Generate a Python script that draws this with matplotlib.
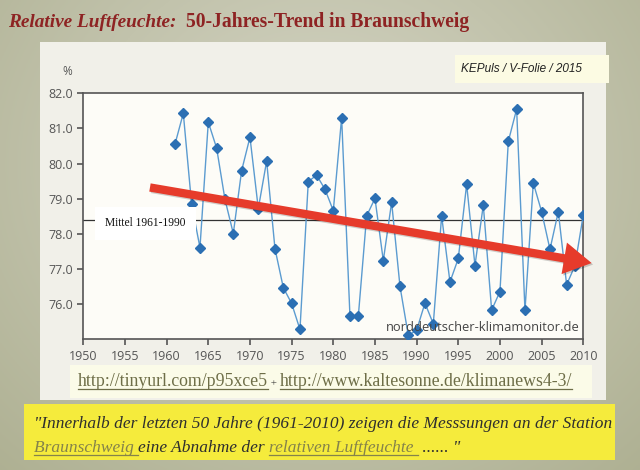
import numpy as np
import matplotlib
matplotlib.use("Agg")
import matplotlib.pyplot as plt
import matplotlib.transforms as mtransforms
from matplotlib.patches import Rectangle, FancyArrowPatch
from matplotlib.lines import Line2D

# ---------------- data ----------------
years = list(range(1961, 2011))
humidity = [80.55, 81.43, 78.84, 77.61, 81.18, 80.44, 78.98, 78.01, 79.80, 80.75,
            78.72, 80.07, 77.58, 76.47, 76.02, 75.28, 79.49, 79.67, 79.27, 78.66,
            81.31, 75.65, 75.65, 78.51, 79.01, 77.24, 78.90, 76.51, 75.11, 75.26,
            76.03, 75.44, 78.51, 76.63, 77.30, 79.41, 77.10, 78.82, 75.83, 76.36,
            80.63, 81.55, 75.82, 79.45, 78.63, 77.56, 78.63, 76.55, 77.10, 78.54]
mean_1961_1990 = 78.4
trend_years = [1958.0, 2011.0]
trend_values = [79.32, 77.17]
x_ticks = [1950, 1955, 1960, 1965, 1970, 1975, 1980, 1985, 1990, 1995, 2000, 2005, 2010]
y_ticks = [76.0, 77.0, 78.0, 79.0, 80.0, 81.0, 82.0]

# ---------------- figure ----------------
W, H = 640, 470
fig = plt.figure(figsize=(6.4, 4.7), dpi=100)

def fx(px):
    return px / W

def fy(py):
    return 1 - py / H

# background gradient
bg = fig.add_axes([0, 0, 1, 1], zorder=-10)
yy, xx = np.mgrid[0:1:200j, 0:1:300j]
r = np.sqrt(((xx - 0.5) / 0.75) ** 2 + ((yy - 0.35) / 0.9) ** 2)
r = np.clip(r, 0, 1)
c_in = np.array([214, 214, 198]) / 255
c_out = np.array([174, 176, 146]) / 255
img = c_in[None, None, :] * (1 - r[..., None]) + c_out[None, None, :] * r[..., None]
bg.imshow(img, extent=[0, 1, 0, 1], aspect='auto', origin='upper')
bg.set_xlim(0, 1); bg.set_ylim(0, 1)
bg.axis('off')

def frect(x0, y0, x1, y1, color, z=-5):
    fig.patches.append(Rectangle((fx(x0), fy(y1)), fx(x1) - fx(x0), fy(y0) - fy(y1),
                                 transform=fig.transFigure, facecolor=color,
                                 edgecolor='none', zorder=z))

# panels
frect(40, 42, 606, 400, '#f1f0e9')
frect(455, 55, 609, 83, '#fcfbe3', z=-4)
frect(70, 365, 592, 398, '#fbfbe8', z=-4)
frect(24, 404, 615, 460, '#f5eb3c', z=-4)

# title
fig.text(fx(8), fy(27), 'Relative Luftfeuchte:', family='Liberation Serif', style='italic',
         weight='bold', fontsize=13.9, color='#8e2323', va='baseline')
fig.text(fx(186), fy(27), '50-Jahres-Trend in Braunschweig', family='Liberation Serif',
         weight='bold', fontsize=14.1, color='#8e2323', va='baseline')

fig.text(fx(461), fy(69), 'KEPuls / V-Folie / 2015', family='Liberation Sans', style='italic',
         fontsize=8.5, color='#222222', va='center')

# ---------------- chart ----------------
ax = fig.add_axes([fx(83.3), fy(339.3), fx(583.3) - fx(83.3), fy(93.3) - fy(339.3)])
ax.set_facecolor('#fdfcf7')
ax.set_xlim(1950, 2010)
ax.set_ylim(75, 82)
ax.set_xticks(x_ticks)
ax.set_xticklabels([str(t) for t in x_ticks])
ax.set_yticks(y_ticks)
ax.set_yticklabels(['%.1f' % t for t in y_ticks])
for s in ax.spines.values():
    s.set_color('#555555')
    s.set_linewidth(1.2)
ax.tick_params(colors='#555555', labelcolor='#555555', labelsize=9, length=4, width=1.2,
               direction='out')
for lab in ax.get_xticklabels() + ax.get_yticklabels():
    lab.set_family('Open Sans')

ax.axhline(mean_1961_1990, color='#333333', lw=0.9, zorder=2)
ax.plot(years, humidity, color='#5b9bd0', lw=1.0, marker='D', markersize=5.5,
        markerfacecolor='#2b6fb3', markeredgecolor='#2b6fb3', zorder=3)

ax.text(1952.6, mean_1961_1990 - 0.1, 'Mittel 1961-1990', family='Liberation Serif',
        fontsize=8.3, color='#111111', va='center', ha='left', zorder=4,
        bbox=dict(facecolor='white', edgecolor='none', pad=7.5))

ax.text(0.993, 0.047, 'norddeutscher-klimamonitor.de', transform=ax.transAxes,
        family='Open Sans', fontsize=9.3, color='#444444', ha='right', va='center', zorder=4)

ax.text(-0.022, 1.09, '%', transform=ax.transAxes, family='Open Sans', fontsize=8.5,
        color='#555555', ha='right', va='center')

# trend arrow (shadow + arrow)
for dx, col, z in [(1.5, (0, 0, 0, 0.18), 5), (0, '#e63b2b', 6)]:
    arr = FancyArrowPatch((trend_years[0], trend_values[0]), (trend_years[1], trend_values[1]),
                          arrowstyle='simple,head_width=1.15,head_length=1.0,tail_width=0.3',
                          mutation_scale=20, color=col, shrinkA=0, shrinkB=0,
                          clip_on=False, zorder=z, lw=0)
    if dx:
        arr.set_transform(ax.transData + mtransforms.ScaledTranslation(dx / 100, -dx / 100, fig.dpi_scale_trans))
    ax.add_patch(arr)

# ---------------- rich text lines ----------------
fig.canvas.draw()
renderer = fig.canvas.get_renderer()

def runs_line(runs, x0px, ybase_px, size, style='normal'):
    x = x0px
    for txt, color, underline, rsize in runs:
        t = fig.text(fx(x), fy(ybase_px), txt, family='Liberation Serif', style=style,
                     fontsize=rsize or size, color=color, va='baseline', ha='left')
        bb = t.get_window_extent(renderer)
        w = bb.width
        if underline:
            fig.lines.append(Line2D([fx(x), fx(x + w)], [fy(ybase_px + 2.5)] * 2,
                                    transform=fig.transFigure, color=color, lw=0.9))
        x += w

olive = '#6e6e48'
runs_line([('http://tinyurl.com/p95xce5', olive, True, None),
           (' + ', '#333333', False, 8),
           ('http://www.kaltesonne.de/klimanews4-3/', olive, True, None)],
          78, 386, 12.8)

dark = '#2e2e2e'
olive2 = '#85834a'
runs_line([('"Innerhalb der letzten 50 Jahre (1961-2010) zeigen die Messsungen an der Station',
            dark, False, None)], 34, 428, 12.55, style='italic')
runs_line([('Braunschweig ', olive2, True, None),
           ('eine Abnahme der ', dark, False, None),
           ('relativen Luftfeuchte ', olive2, True, None),
           (' ...... "', dark, False, None)], 34, 452, 12.55, style='italic')

fig.savefig('out.png', dpi=100)
